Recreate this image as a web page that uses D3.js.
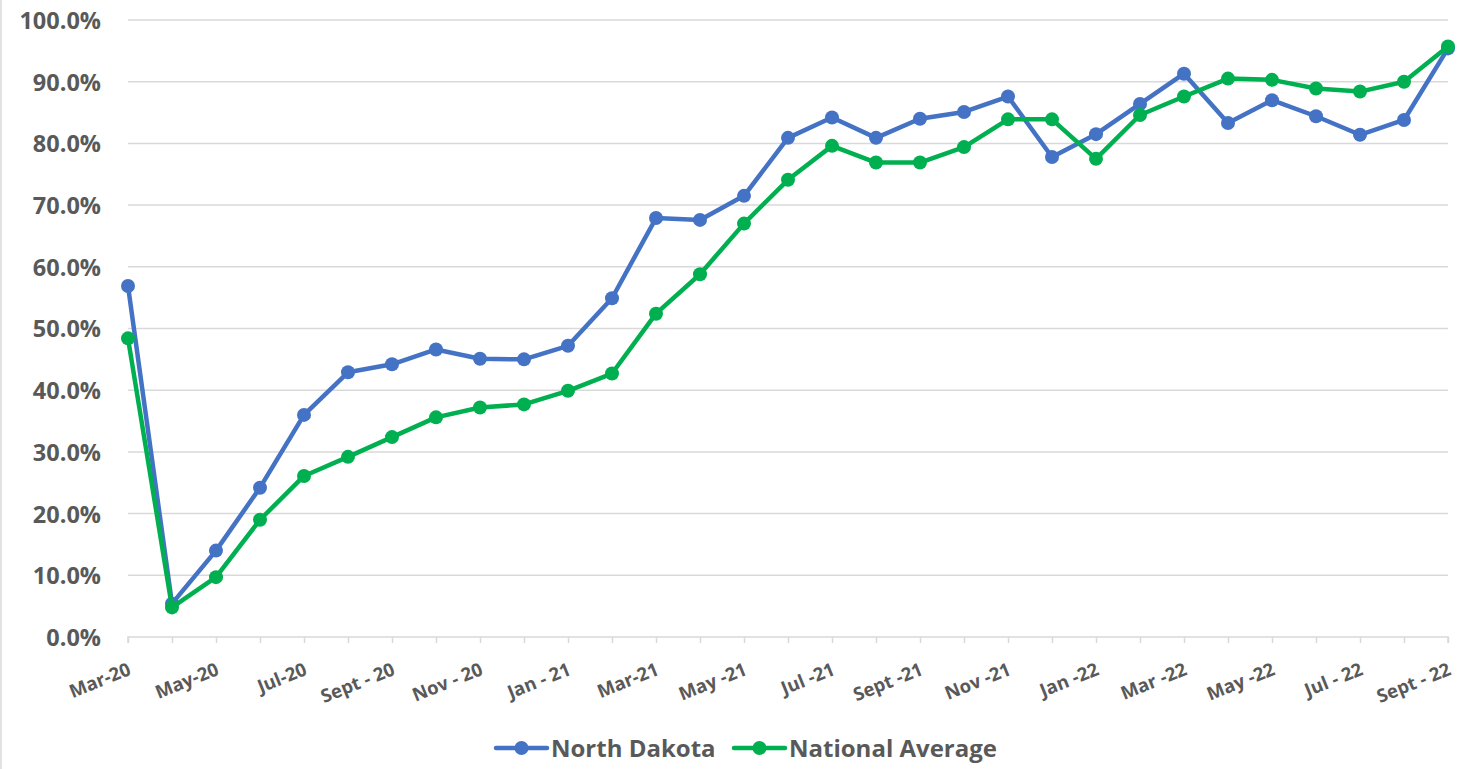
<!DOCTYPE html>
<html><head><meta charset="utf-8">
<script src="https://cdn.jsdelivr.net/npm/d3@7"></script>
<style>
html,body{margin:0;padding:0;background:#fff;}
svg{display:block;}
text{font-family:"Open Sans",sans-serif;font-weight:700;fill:#595959;}
</style></head>
<body>
<svg id="chart" width="1470" height="769"></svg>
<script>
const months = ["Mar-20","Apr-20","May-20","Jun-20","Jul-20","Aug-20","Sep-20","Oct-20","Nov-20","Dec-20","Jan-21","Feb-21","Mar-21","Apr-21","May-21","Jun-21","Jul-21","Aug-21","Sep-21","Oct-21","Nov-21","Dec-21","Jan-22","Feb-22","Mar-22","Apr-22","May-22","Jun-22","Jul-22","Aug-22","Sep-22"];
const tickLabels = {"Mar-20":"Mar-20","May-20":"May-20","Jul-20":"Jul-20","Sep-20":"Sept - 20","Nov-20":"Nov - 20","Jan-21":"Jan - 21","Mar-21":"Mar-21","May-21":"May -21","Jul-21":"Jul -21","Sep-21":"Sept -21","Nov-21":"Nov -21","Jan-22":"Jan -22","Mar-22":"Mar -22","May-22":"May -22","Jul-22":"Jul - 22","Sep-22":"Sept - 22"};
const northDakota = [56.9,5.4,14.0,24.2,36.0,42.9,44.2,46.6,45.1,45.0,47.2,54.9,67.9,67.6,71.5,80.9,84.2,80.9,84.0,85.1,87.6,77.8,81.5,86.4,91.3,83.3,87.0,84.4,81.4,83.8,95.4];
const nationalAverage = [48.4,4.8,9.7,19.0,26.1,29.2,32.4,35.6,37.2,37.7,39.9,42.7,52.4,58.8,67.0,74.1,79.6,76.9,76.9,79.4,83.9,83.9,77.5,84.6,87.6,90.5,90.3,88.9,88.4,90.0,95.7];
const yTicks = [0,10,20,30,40,50,60,70,80,90,100];
const seriesNames = ["North Dakota","National Average"];
const colors = ["#4472C4","#00B050"];

const svg = d3.select("#chart");
const m = {left:128, right:1448, top:20, bottom:637};
const x = d3.scalePoint().domain(months).range([m.left, m.right]);
const y = d3.scaleLinear().domain([0,100]).range([m.bottom, m.top]);

// border (left edge visible)
svg.append("line").attr("x1",1).attr("x2",1).attr("y1",0).attr("y2",769)
  .attr("stroke","#d9d9d9").attr("stroke-width",1.5);

// gridlines
svg.append("g").selectAll("line").data(yTicks.filter(d=>d>0)).join("line")
  .attr("x1",m.left).attr("x2",m.right).attr("y1",d=>y(d)).attr("y2",d=>y(d))
  .attr("stroke","#d9d9d9").attr("stroke-width",1.5);

// y axis labels
const yAxis = d3.axisLeft(y).tickValues(yTicks).tickSize(0).tickPadding(0).tickFormat(d=>d.toFixed(1)+"%");
const gy = svg.append("g").attr("transform",`translate(${m.left-27},0)`).call(yAxis);
gy.select(".domain").remove();
gy.selectAll("text").attr("font-size",23.5).attr("fill","#595959").attr("font-family","'Open Sans',sans-serif").attr("font-weight",700).attr("dy","0.36em");

// x axis
const xAxis = d3.axisBottom(x).tickSize(6).tickFormat(d=>tickLabels[d]||"");
const gx = svg.append("g").attr("transform",`translate(0,${m.bottom})`).call(xAxis);
gx.select(".domain").attr("stroke","#d9d9d9").attr("stroke-width",1.5).attr("d",`M${m.left},6V0H${m.right}V6`);
gx.selectAll(".tick line").attr("stroke","#d9d9d9").attr("stroke-width",1.5);
gx.selectAll(".tick text").attr("font-size",18.5).attr("fill","#595959")
  .attr("font-family","'Open Sans',sans-serif").attr("font-weight",700)
  .attr("text-anchor","end").attr("x",0).attr("y",0).attr("dy","0.36em")
  .attr("transform","translate(1,31) rotate(-22)");

// lines
const series = [northDakota, nationalAverage];
const line = d3.line().x((d,i)=>x(months[i])).y(d=>y(d));
series.forEach((s,k)=>{
  const g = svg.append("g");
  g.append("path").datum(s).attr("d",line).attr("fill","none").attr("stroke",colors[k])
    .attr("stroke-width",4.5).attr("stroke-linejoin","round");
  g.selectAll("circle").data(s).join("circle").attr("cx",(d,i)=>x(months[i])).attr("cy",d=>y(d))
    .attr("r",7).attr("fill",colors[k]);
});

// legend
const legendX = [496, 734];
const lg = svg.append("g");
seriesNames.forEach((n,k)=>{
  const lx = legendX[k], ly = 748;
  lg.append("line").attr("x1",lx).attr("x2",lx+51).attr("y1",ly).attr("y2",ly)
    .attr("stroke",colors[k]).attr("stroke-width",4.5).attr("stroke-linecap","round");
  lg.append("circle").attr("cx",lx+25.5).attr("cy",ly).attr("r",7).attr("fill",colors[k]);
  lg.append("text").attr("x",lx+55).attr("y",ly).attr("dy","0.36em").attr("font-size",24).text(n);
});
</script>
</body></html>
